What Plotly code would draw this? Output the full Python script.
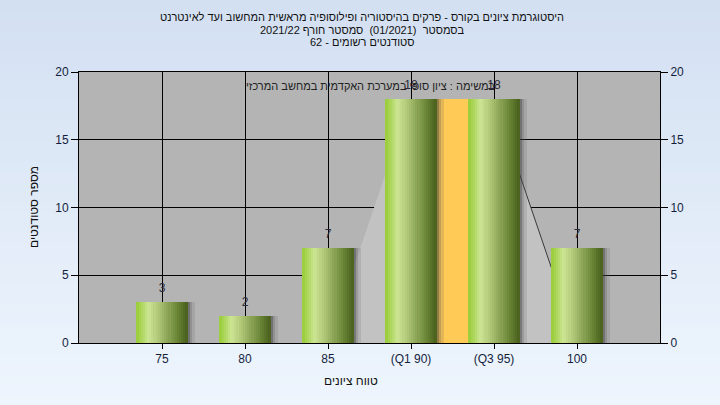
import plotly.graph_objects as go

# ---------------- data ----------------
categories = ["75", "80", "85", "(Q1 90)", "(Q3 95)", "100"]
counts = [3, 2, 7, 18, 18, 7]
envelope = [0, 0, 0, 18, 18, 0]          # light grey area behind the bars
iqr_categories = ["(Q1 90)", "(Q3 95)"]   # orange Q1-Q3 band
iqr_height = 18
y_ticks = [0, 5, 10, 15, 20]

title_lines = [
    "היסטוגרמת ציונים בקורס - פרקים בהיסטוריה ופילוסופיה מראשית המחשוב ועד לאינטרנט",
    "בסמסטר  (01/2021)  סמסטר חורף 2021/22",
    "סטודנטים רשומים - 62",
]
subtitle = "במשימה : ציון סופי במערכת האקדמית במחשב המרכזי"
x_title = "טווח ציונים"
y_title = "מספר סטודנטים"

# ---------------- geometry / style ----------------
W, H = 720, 405
L, R, T, B = 79, 60, 72, 62
PW, PH = W - L - R, H - T - B
FONT = "Liberation Sans, Arial, sans-serif"
TXT = "#141e3c"


def px_x(px):
    return (px - L) / PW


def px_y(py):
    return (H - B - py) / PH


def hex2rgb(h):
    h = h.lstrip("#")
    return tuple(int(h[i:i + 2], 16) for i in (0, 2, 4))


def lerp_color(stops, t):
    for (t0, c0), (t1, c1) in zip(stops[:-1], stops[1:]):
        if t0 <= t <= t1:
            f = (t - t0) / (t1 - t0) if t1 > t0 else 0
            a, b = hex2rgb(c0), hex2rgb(c1)
            return "rgb(%d,%d,%d)" % tuple(round(a[i] + (b[i] - a[i]) * f) for i in range(3))
    return stops[-1][1]


xpos = list(range(1, len(categories) + 1))
iqr_pos = [xpos[categories.index(c)] for c in iqr_categories]

fig = go.Figure()

# light grey area (main axis, beneath the bars)
fig.add_trace(go.Scatter(
    x=xpos, y=envelope, mode="lines", fill="tozeroy",
    fillcolor="#c2c2c2", line=dict(width=0), hoverinfo="skip", showlegend=False,
    xaxis="x", yaxis="y"))
fig.add_trace(go.Scatter(
    x=xpos[4:6], y=envelope[4:6], mode="lines",
    line=dict(color="#3a3a3a", width=1), hoverinfo="skip", showlegend=False,
    xaxis="x", yaxis="y"))

# orange Q1-Q3 band
fig.add_trace(go.Bar(
    x=[(iqr_pos[0] + iqr_pos[1]) / 2], y=[iqr_height], width=iqr_pos[1] - iqr_pos[0],
    marker=dict(color="#ffca55", line=dict(width=0)), hoverinfo="skip", showlegend=False,
    xaxis="x", yaxis="y2"))

BW = 0.615
unit = PW / 7.0
# soft shadows at the right of each bar
for k, col in enumerate(["rgba(60,60,60,0.55)", "rgba(80,80,80,0.35)", "rgba(100,100,100,0.18)"]):
    fig.add_trace(go.Bar(
        x=xpos, y=counts, width=2.5 / unit, offset=BW / 2 + k * 2.5 / unit - 0.5 / unit,
        marker=dict(color=col, line=dict(width=0)), hoverinfo="skip", showlegend=False,
        xaxis="x", yaxis="y2"))

# cylinder-like gradient bars built from vertical slices
stops = [(0.0, "#98cc38"), (0.24, "#cde594"), (0.5, "#a1b96a"),
         (0.78, "#6d8838"), (1.0, "#48601e")]
N = 24
for i in range(N):
    t = (i + 0.5) / N
    fig.add_trace(go.Bar(
        x=xpos, y=counts, width=BW / N * 1.05, offset=-BW / 2 + i * BW / N,
        marker=dict(color=lerp_color(stops, t), line=dict(width=0)),
        hoverinfo="skip", showlegend=False, xaxis="x", yaxis="y2"))

# value labels
fig.add_trace(go.Scatter(
    x=xpos, y=counts, mode="markers+text", text=[str(v) for v in counts],
    marker=dict(size=10, opacity=0),
    textposition="top center", textfont=dict(family=FONT, size=12, color="#2a2a3a"),
    hoverinfo="skip", showlegend=False, xaxis="x", yaxis="y2"))

# background gradient (paper) + grey plot area
shapes = []
NB = 40
top_c, bot_c = "#d3e0f2", "#eef5fd"
for i in range(NB):
    y0 = i * H / NB
    y1 = (i + 1) * H / NB + 0.6
    col = lerp_color([(0, top_c), (1, bot_c)], (i + 0.5) / NB)
    shapes.append(dict(type="rect", xref="paper", yref="paper", layer="below",
                       x0=px_x(0), x1=px_x(W), y0=px_y(y1), y1=px_y(y0),
                       fillcolor=col, line=dict(width=0)))
shapes.append(dict(type="rect", xref="paper", yref="paper", layer="below",
                   x0=0, x1=1, y0=0, y1=1, fillcolor="#b4b4b4", line=dict(width=0)))

annotations = []
for line, ypx in zip(title_lines, [17, 30, 42]):
    annotations.append(dict(text=line, xref="paper", yref="paper",
                            x=px_x(362), y=px_y(ypx), showarrow=False,
                            xanchor="center", yanchor="middle",
                            font=dict(family=FONT, size=11, color="#111")))
annotations.append(dict(text=subtitle, xref="paper", yref="paper",
                        x=px_x(371), y=px_y(86), showarrow=False,
                        xanchor="center", yanchor="middle",
                        font=dict(family=FONT, size=11, color="#222")))
annotations.append(dict(text=x_title, xref="paper", yref="paper",
                        x=px_x(351), y=px_y(381), showarrow=False,
                        xanchor="center", yanchor="middle",
                        font=dict(family=FONT, size=12, color="#111")))
annotations.append(dict(text=y_title, xref="paper", yref="paper",
                        x=px_x(34), y=px_y(207), showarrow=False, textangle=-90,
                        xanchor="center", yanchor="middle",
                        font=dict(family=FONT, size=12, color="#111")))

axis_font = dict(family=FONT, size=12, color=TXT)
fig.update_layout(
    width=W, height=H,
    margin=dict(l=L, r=R, t=T, b=B, pad=0),
    paper_bgcolor="#e2ebf8", plot_bgcolor="#b4b4b4",
    barmode="overlay", bargap=0,
    showlegend=False,
    shapes=shapes, annotations=annotations,
    xaxis=dict(range=[0, 7], tickmode="array", tickvals=xpos, ticktext=categories,
               showgrid=True, gridcolor="#000", gridwidth=1, zeroline=False,
               showline=True, linecolor="#000", linewidth=1, mirror=True,
               ticks="outside", ticklen=5, tickcolor="#000", tickfont=axis_font,
               fixedrange=True),
    yaxis=dict(range=[0, 20], tickmode="array", tickvals=y_ticks,
               showgrid=True, gridcolor="#000", gridwidth=1, zeroline=False,
               showline=True, linecolor="#000", linewidth=1,
               ticks="outside", ticklen=7, tickcolor="#000", tickfont=axis_font,
               fixedrange=True),
    yaxis2=dict(range=[0, 20], tickmode="array", tickvals=y_ticks, overlaying="y",
                side="right", showgrid=False, zeroline=False,
                showline=True, linecolor="#000", linewidth=1,
                ticks="outside", ticklen=7, tickcolor="#000", tickfont=axis_font,
                fixedrange=True),
)

fig.write_html("out.html", config={"displayModeBar": False},
               post_script="document.body.style.margin='0';document.body.style.overflow='hidden';")
